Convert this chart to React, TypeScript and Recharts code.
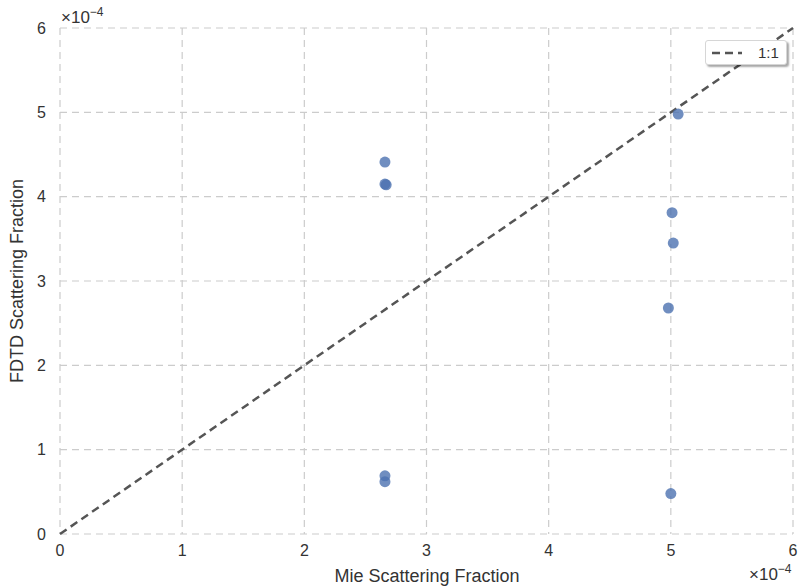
import React from "react";
import {
  ScatterChart,
  Scatter,
  XAxis,
  YAxis,
  CartesianGrid,
  Customized,
} from "recharts";

// values in units of 1e-4
const mieValues = [2.66, 2.66, 2.67, 2.66, 2.66, 5.06, 5.01, 5.02, 4.98, 5.0];
const fdtdValues = [4.41, 4.15, 4.14, 0.69, 0.62, 4.98, 3.81, 3.45, 2.68, 0.48];
const ticks = [0, 1, 2, 3, 4, 5, 6];
const oneToOne = [0, 6];

const points = mieValues.map((x, i) => ({ x, y: fdtdValues[i] }));
const lineData = oneToOne.map((v) => ({ x: v, y: v }));

const font = "'Liberation Sans', Arial, sans-serif";
const grey = "#cccccc";

const LegendBox = () => (
  <div
    style={{
      position: "absolute",
      left: 705,
      top: 40,
      width: 82,
      height: 25,
      boxSizing: "border-box",
      background: "#fff",
      border: "1px solid #d6d6d6",
      borderRadius: 3,
      boxShadow: "2px 2px 2px rgba(0,0,0,0.35)",
      display: "flex",
      alignItems: "center",
      fontFamily: font,
      fontSize: 15,
      color: "#333",
    }}
  >
    <svg width={46} height={10} style={{ marginLeft: 6 }}>
      <line x1={0} y1={5} x2={30} y2={5} stroke="#555" strokeWidth={2.5} strokeDasharray="8 5" />
    </svg>
    <span>1:1</span>
  </div>
);

const Frame = (props: any) => {
  const { offset } = props;
  if (!offset) return null;
  return (
    <rect x={offset.left} y={offset.top} width={offset.width} height={offset.height} fill="none" stroke={grey} strokeWidth={1.2} />
  );
};

export default function App() {
  return (
    <div style={{ position: "fixed", left: 0, top: 0, width: 798, height: 586, background: "#fff" }}>
      <ScatterChart width={798} height={586} margin={{ top: 28, right: 5, bottom: 0, left: 0 }}>
        <CartesianGrid stroke={grey} strokeDasharray="7 5" strokeWidth={1.2} />
        <Customized component={Frame} />
        <XAxis
          type="number"
          dataKey="x"
          domain={[0, 6]}
          ticks={ticks}
          height={52}
          tickLine={false}
          axisLine={false}
          tick={{ fill: "#333", fontSize: 16, fontFamily: font }}
          tickMargin={5}
        />
        <YAxis
          type="number"
          dataKey="y"
          domain={[0, 6]}
          ticks={ticks}
          width={60}
          tickLine={false}
          axisLine={false}
          tick={{ fill: "#333", fontSize: 16, fontFamily: font }}
          tickMargin={8}
        />
        <Scatter
          data={lineData}
          line={{ stroke: "#555", strokeWidth: 2.5, strokeDasharray: "8 5" }}
          shape={() => null}
          isAnimationActive={false}
        />
        <Scatter
          data={points}
          fill="#4c72b0"
          shape={(p: any) => <circle cx={p.cx} cy={p.cy} r={5.5} fill="#4c72b0" fillOpacity={0.8} />}
          isAnimationActive={false}
        />
        <text x={18} y={281} transform="rotate(-90 18 281)" textAnchor="middle" dominantBaseline="middle" fill="#333" fontSize={18} fontFamily={font}>
          FDTD Scattering Fraction
        </text>
        <text x={427} y={582} textAnchor="middle" fill="#333" fontSize={18} fontFamily={font}>
          Mie Scattering Fraction
        </text>
        <text x={61} y={23} fill="#333" fontSize={17} fontFamily={font}>
          ×10<tspan dy={-7} fontSize={12}>−4</tspan>
        </text>
        <text x={749} y={580} fill="#333" fontSize={17} fontFamily={font}>
          ×10<tspan dy={-7} fontSize={12}>−4</tspan>
        </text>
      </ScatterChart>
      <LegendBox />
    </div>
  );
}
